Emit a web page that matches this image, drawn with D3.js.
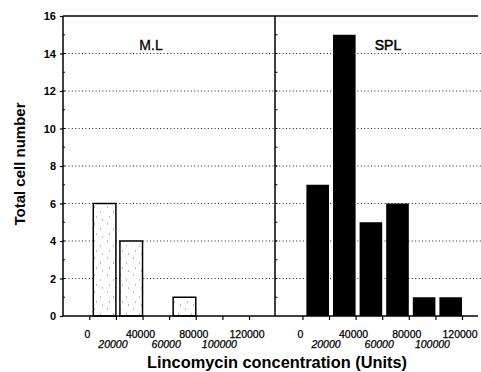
<!DOCTYPE html>
<html>
<head>
<meta charset="utf-8">
<script src="https://cdn.jsdelivr.net/npm/d3@7"></script>
<style>
  html, body { margin: 0; padding: 0; background: #fff; }
  svg { display: block; font-family: "Liberation Sans", Arial, Helvetica, sans-serif; }
</style>
</head>
<body>
<svg id="chart" width="481" height="372"></svg>
<script>
// ---- data ----
const binEdges = [0, 20000, 40000, 60000, 80000, 100000, 120000];
const categories = ["0-20000", "20000-40000", "40000-60000", "60000-80000", "80000-100000", "100000-120000"];
const mlValues = [6, 4, 0, 1, 0, 0];
const splValues = [7, 15, 5, 6, 1, 1];
const yTicks = [0, 2, 4, 6, 8, 10, 12, 14, 16];
const xTicksUpper = [0, 40000, 80000, 120000];
const xTicksLower = [20000, 60000, 100000];
const panelTitles = ["M.L", "SPL"];

// ---- layout ----
const svg = d3.select("#chart");
const plotTop = 16, plotBottom = 316, plotLeft = 63, divider = 275, plotRight = 478;
const y = d3.scaleLinear().domain([0, 16]).range([plotBottom, plotTop]);
const xL = d3.scaleLinear().domain([0, 120000]).range([89.3, 249]);
const xR = d3.scaleLinear().domain([0, 120000]).range([302.4, 462]);
const barGap = 4;

// speckle pattern for M.L bars
const defs = svg.append("defs");
const pat = defs.append("pattern").attr("id", "speckle").attr("patternUnits", "userSpaceOnUse")
  .attr("width", 13).attr("height", 17);
pat.append("rect").attr("width", 13).attr("height", 17).attr("fill", "#fff");
[[3,2],[9,7],[5,12],[11,15]].forEach(p => pat.append("rect").attr("x", p[0]).attr("y", p[1])
  .attr("width", 1).attr("height", 2).attr("fill", "#bbb"));

// gridlines (dotted)
svg.append("g").selectAll("line").data(yTicks.filter(t => t > 0 && t < 16)).join("line")
  .attr("x1", plotLeft + 2).attr("x2", 481).attr("y1", d => y(d)).attr("y2", d => y(d))
  .attr("stroke", "#222").attr("stroke-width", 1).attr("stroke-dasharray", "1,2.4");

const bins = categories.map((c, i) => ({ c, lo: binEdges[i], hi: binEdges[i + 1] }));

// M.L bars
svg.append("g").selectAll("rect").data(bins.map((b, i) => ({ ...b, v: mlValues[i] })).filter(d => d.v > 0))
  .join("rect")
  .attr("x", d => xL(d.lo) + barGap).attr("width", d => xL(d.hi) - xL(d.lo) - barGap)
  .attr("y", d => y(d.v)).attr("height", d => y(0) - y(d.v))
  .attr("fill", "url(#speckle)").attr("stroke", "#000").attr("stroke-width", 1.5);

// SPL bars
svg.append("g").selectAll("rect").data(bins.map((b, i) => ({ ...b, v: splValues[i] })).filter(d => d.v > 0))
  .join("rect")
  .attr("x", d => xR(d.lo) + barGap).attr("width", d => xR(d.hi) - xR(d.lo) - barGap)
  .attr("y", d => y(d.v)).attr("height", d => y(0) - y(d.v))
  .attr("fill", "#000");

// frame lines
const frame = svg.append("g").attr("stroke", "#000").attr("stroke-width", 1.5);
frame.append("line").attr("x1", plotLeft).attr("x2", plotRight).attr("y1", plotTop).attr("y2", plotTop);
frame.append("line").attr("x1", plotLeft).attr("x2", plotRight).attr("y1", plotBottom).attr("y2", plotBottom);
frame.append("line").attr("x1", plotLeft).attr("x2", plotLeft).attr("y1", plotTop).attr("y2", plotBottom);
frame.append("line").attr("x1", divider).attr("x2", divider).attr("y1", plotTop).attr("y2", plotBottom);

// y axis
const yAxis = svg.append("g").attr("transform", `translate(${plotLeft},0)`)
  .call(d3.axisLeft(y).tickValues(yTicks).tickSize(3).tickPadding(4).tickFormat(d3.format("d")));
yAxis.select(".domain").remove();
yAxis.selectAll("line").attr("stroke", "#000").attr("stroke-width", 1.2);
yAxis.selectAll("text").attr("font-size", 11).attr("font-weight", "bold").attr("fill", "#000");

// minor ticks
const minor = d3.range(1, 16);
svg.append("g").selectAll("line").data(minor).join("line")
  .attr("x1", plotLeft).attr("x2", plotLeft + 2).attr("y1", d => y(d)).attr("y2", d => y(d))
  .attr("stroke", "#000").attr("stroke-width", 1);
svg.append("g").selectAll("line").data(minor).join("line")
  .attr("x1", divider).attr("x2", divider + 2.5).attr("y1", d => y(d)).attr("y2", d => y(d))
  .attr("stroke", "#000").attr("stroke-width", 1);

// x axes
[xL, xR].forEach(x => {
  const g = svg.append("g").attr("transform", `translate(0,${plotBottom})`)
    .call(d3.axisBottom(x).tickValues(binEdges).tickSize(4).tickFormat(""));
  g.select(".domain").remove();
  g.selectAll("line").attr("stroke", "#000").attr("stroke-width", 1.2);
  svg.append("g").selectAll("text").data(xTicksUpper).join("text")
    .attr("x", d => x(d) - 2).attr("y", 338).attr("text-anchor", "middle")
    .attr("font-size", 10.5).attr("stroke", "#000").attr("stroke-width", 0.25).text(d => d);
  svg.append("g").selectAll("text").data(xTicksLower).join("text")
    .attr("x", d => x(d) - 3).attr("y", 348).attr("text-anchor", "middle")
    .attr("font-size", 10.5).attr("font-style", "italic").attr("stroke", "#000").attr("stroke-width", 0.25).text(d => d);
});

// panel titles
svg.append("text").attr("x", 151).attr("y", 50).attr("text-anchor", "middle")
  .attr("font-size", 14).attr("stroke", "#000").attr("stroke-width", 0.3).text(panelTitles[0]);
svg.append("text").attr("x", 388).attr("y", 50).attr("text-anchor", "middle")
  .attr("font-size", 14).attr("stroke", "#000").attr("stroke-width", 0.5).text(panelTitles[1]);

// axis titles
svg.append("text").attr("x", 277).attr("y", 368).attr("text-anchor", "middle")
  .attr("font-size", 16).attr("font-weight", "bold")
  .attr("textLength", 260).attr("lengthAdjust", "spacingAndGlyphs")
  .text("Lincomycin concentration (Units)");
svg.append("text").attr("transform", "translate(25,164) rotate(-90)").attr("text-anchor", "middle")
  .attr("font-size", 15).attr("font-weight", "bold")
  .text("Total cell number");
</script>
</body>
</html>
